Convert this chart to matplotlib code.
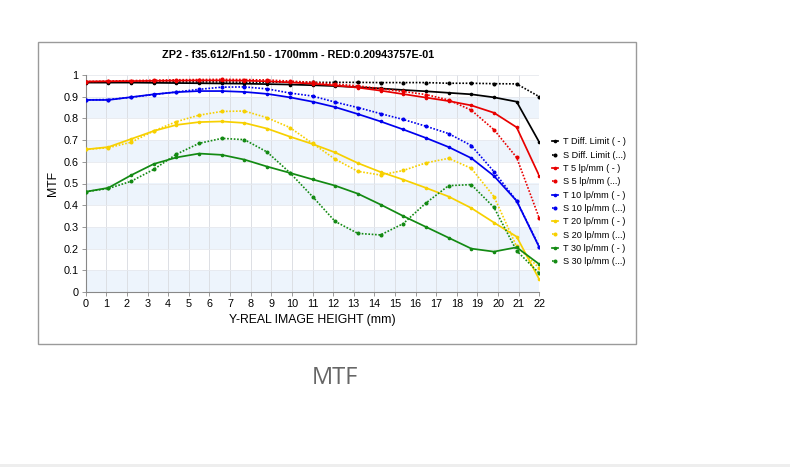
import matplotlib
matplotlib.use("Agg")
import matplotlib.pyplot as plt
from matplotlib.patches import Rectangle

# field heights of the sample points (mm)
field = [0.0, 1.1, 2.2, 3.3, 4.4, 5.5, 6.6, 7.7, 8.8, 9.9, 11.0,
         12.1, 13.2, 14.3, 15.4, 16.5, 17.6, 18.7, 19.8, 20.9, 22.0]

t_diff = [0.965, 0.965, 0.965, 0.964, 0.963, 0.962, 0.961, 0.960, 0.958, 0.956, 0.953,
          0.949, 0.944, 0.938, 0.931, 0.925, 0.918, 0.911, 0.897, 0.877, 0.690]
s_diff = [0.968, 0.968, 0.968, 0.968, 0.968, 0.968, 0.968, 0.967, 0.967, 0.967, 0.966,
          0.966, 0.966, 0.965, 0.965, 0.965, 0.962, 0.962, 0.960, 0.959, 0.900]
t_5 = [0.970, 0.971, 0.972, 0.973, 0.974, 0.975, 0.975, 0.974, 0.971, 0.966, 0.960,
       0.952, 0.942, 0.928, 0.912, 0.896, 0.880, 0.860, 0.826, 0.759, 0.535]
s_5 = [0.970, 0.972, 0.974, 0.976, 0.978, 0.979, 0.980, 0.979, 0.977, 0.972, 0.966,
       0.958, 0.950, 0.937, 0.924, 0.910, 0.885, 0.838, 0.748, 0.620, 0.340]
t_10 = [0.885, 0.885, 0.898, 0.911, 0.921, 0.926, 0.926, 0.922, 0.913, 0.897, 0.877,
        0.852, 0.820, 0.786, 0.749, 0.710, 0.668, 0.617, 0.535, 0.420, 0.206]
s_10 = [0.885, 0.887, 0.897, 0.910, 0.922, 0.934, 0.944, 0.945, 0.936, 0.917, 0.903,
        0.875, 0.850, 0.822, 0.795, 0.764, 0.730, 0.675, 0.555, 0.420, 0.209]
t_20 = [0.657, 0.668, 0.705, 0.742, 0.770, 0.783, 0.786, 0.779, 0.753, 0.716, 0.682,
        0.643, 0.594, 0.553, 0.518, 0.480, 0.440, 0.387, 0.320, 0.255, 0.058]
s_20 = [0.657, 0.665, 0.690, 0.742, 0.785, 0.815, 0.832, 0.834, 0.803, 0.758, 0.685,
        0.612, 0.556, 0.539, 0.560, 0.595, 0.616, 0.570, 0.440, 0.210, 0.110]
t_30 = [0.462, 0.480, 0.538, 0.590, 0.620, 0.638, 0.632, 0.610, 0.578, 0.549, 0.519,
        0.490, 0.453, 0.403, 0.350, 0.300, 0.250, 0.200, 0.186, 0.206, 0.128]
s_30 = [0.462, 0.477, 0.510, 0.565, 0.635, 0.685, 0.708, 0.702, 0.645, 0.550, 0.440,
        0.325, 0.270, 0.263, 0.315, 0.410, 0.490, 0.495, 0.390, 0.190, 0.086]

labels = ["T Diff. Limit ( - )", "S Diff. Limit (...)",
          "T 5 lp/mm ( - )", "S 5 lp/mm (...)",
          "T 10 lp/mm ( - )", "S 10 lp/mm (...)",
          "T 20 lp/mm ( - )", "S 20 lp/mm (...)",
          "T 30 lp/mm ( - )", "S 30 lp/mm (...)"]
series = [t_diff, s_diff, t_5, s_5, t_10, s_10, t_20, s_20, t_30, s_30]
colors = ["#000000", "#000000", "#e80000", "#e80000", "#0000ee", "#0000ee",
          "#f7d000", "#f7d000", "#138a13", "#138a13"]

x_ticks = list(range(0, 23))
y_ticks = [0, 0.1, 0.2, 0.3, 0.4, 0.5, 0.6, 0.7, 0.8, 0.9, 1]
y_tick_labels = ["0", "0.1", "0.2", "0.3", "0.4", "0.5", "0.6", "0.7", "0.8", "0.9", "1"]

title = "ZP2 - f35.612/Fn1.50 - 1700mm - RED:0.20943757E-01"

plt.rcParams['font.family'] = ['Liberation Sans', 'DejaVu Sans']

fig = plt.figure(figsize=(7.9, 4.67), dpi=100)
fig.patch.set_facecolor("white")

# outer frame of the chart image
fig.patches.append(Rectangle((38 / 790, 1 - 344 / 467), (636 - 38) / 790, (344 - 42) / 467,
                             transform=fig.transFigure, fill=False,
                             edgecolor="#9a9a9a", linewidth=1.0))
# bottom light strip
fig.patches.append(Rectangle((0, 0), 1, 3 / 467, transform=fig.transFigure,
                             facecolor="#eeeeee", edgecolor="none"))

ax = fig.add_axes([85.7 / 790, 1 - 292 / 467, (539.3 - 85.7) / 790, (292 - 75) / 467])
ax.set_xlim(0, 22)
ax.set_ylim(0, 1)

for lo in [0.0, 0.2, 0.4, 0.6, 0.8]:
    ax.axhspan(lo, lo + 0.1, facecolor="#edf4fc", edgecolor="none", zorder=0)
for xv in x_ticks[1:]:
    ax.axvline(xv, color="#dcdfe4", linewidth=0.7, zorder=0.5)
for yv in y_ticks[1:]:
    ax.axhline(yv, color="#e6e9ee", linewidth=0.6, zorder=0.5)

for i, (vals, col, lab) in enumerate(zip(series, colors, labels)):
    if i % 2 == 0:
        ax.plot(field, vals, color=col, linewidth=1.25, linestyle="-",
                marker="o", markersize=1.6, label=lab, zorder=3)
    else:
        ax.plot(field, vals, color=col, linewidth=1.2, linestyle=(0, (1, 1)),
                marker="o", markersize=1.9, label=lab, zorder=3)

ax.set_xticks(x_ticks)
ax.set_yticks(y_ticks)
ax.set_yticklabels(y_tick_labels)
ax.tick_params(axis="both", labelsize=7.8, colors="#000000", length=3, width=0.6,
               pad=2)
ax.tick_params(axis="both", color="#888888")
for s in ["top", "right"]:
    ax.spines[s].set_visible(False)
for s in ["left", "bottom"]:
    ax.spines[s].set_color("#888888")
    ax.spines[s].set_linewidth(0.8)

ax.set_xlabel("Y-REAL IMAGE HEIGHT (mm)", fontsize=8.8, labelpad=4)
ax.set_ylabel("MTF", fontsize=8.8, labelpad=3)
fig.text(298 / 790, 1 - 55 / 467, title, ha="center", va="center",
         fontsize=7.8, fontweight="bold")

leg = ax.legend(loc="upper left", bbox_to_anchor=(552 / 790, 1 - 137.5 / 467),
                bbox_transform=fig.transFigure, frameon=False, fontsize=6.6,
                handlelength=0.7, handletextpad=0.5, labelspacing=0.47,
                borderaxespad=0, borderpad=0)

fig.text(335 / 790, 1 - 378 / 467, "MTF", ha="center", va="center",
         fontsize=17, color="#666666", family=["Open Sans", "DejaVu Sans"])

fig.savefig("out.png", dpi=100, facecolor="white")
